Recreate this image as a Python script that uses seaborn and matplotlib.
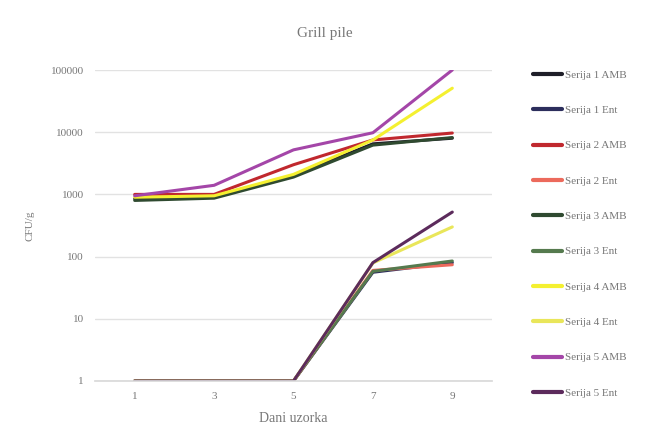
import pandas as pd
import numpy as np
import matplotlib.pyplot as plt
import seaborn as sns

# Chart data (log-scale CFU/g)
days = ["1", "3", "5", "7", "9"]

amb_1 = [850, 900, 2000, 6500, 8000]
amb_2 = [1000, 1000, 3000, 7500, 9700]
amb_3 = [800, 870, 1900, 6200, 8200]
amb_4 = [900, 950, 2100, 7500, 51000]
amb_5 = [950, 1400, 5200, 9800, 100000]

ent_1 = [1, 1, 1, 56, 80]
ent_2 = [1, 1, 1, 60, 74]
ent_3 = [1, 1, 1, 58, 85]
ent_4 = [1, 1, 1, 79, 300]
ent_5 = [1, 1, 1, 80, 520]

series_names = ["Serija 1 AMB", "Serija 1 Ent", "Serija 2 AMB", "Serija 2 Ent",
                "Serija 3 AMB", "Serija 3 Ent", "Serija 4 AMB", "Serija 4 Ent",
                "Serija 5 AMB", "Serija 5 Ent"]
series_values = [amb_1, ent_1, amb_2, ent_2, amb_3, ent_3, amb_4, ent_4, amb_5, ent_5]
series_colors = ["#1e1e28", "#2c2e5c", "#c0282e", "#ec6a5c", "#2f4a30",
                 "#557a4e", "#f4f030", "#e9e65a", "#a446a8", "#5c2b5c"]

sns.set_theme(style="white")
plt.rcParams['font.family'] = ['Liberation Serif', 'DejaVu Serif']

rows = []
for name, vals in zip(series_names, series_values):
    for i, v in enumerate(vals):
        rows.append({"pos": i, "value": v, "series": name})
df = pd.DataFrame(rows)

fig = plt.figure(figsize=(6.65, 4.29), dpi=100)
ax = fig.add_axes([95 / 665, 1 - 381 / 429, (492 - 95) / 665, (381 - 70) / 429])

sns.lineplot(data=df, x="pos", y="value", hue="series", hue_order=series_names,
             palette=dict(zip(series_names, series_colors)), linewidth=2.2,
             ax=ax, legend=True)

ax.set_yscale("log")
ax.set_ylim(1, 100000)
ax.set_xlim(-0.5, len(days) - 0.5)
ax.set_yticks([1, 10, 100, 1000, 10000, 100000])
ax.set_yticklabels(["1", "10", "100", "1000", "10000", "100000"])
ax.minorticks_off()
ax.set_xticks(range(len(days)))
ax.set_xticklabels(days)
ax.yaxis.grid(True, color="#e2e2e2", linewidth=1)
ax.set_axisbelow(True)
for s in ["top", "right", "left"]:
    ax.spines[s].set_visible(False)
ax.spines["bottom"].set_color("#d9d9d9")
ax.tick_params(axis="both", length=0, labelsize=8, colors="#777777", pad=8)

ax.set_xlabel("Dani uzorka", fontsize=10, color="#777777", labelpad=8)
ax.set_ylabel("CFU/g", fontsize=8, color="#777777", labelpad=12)
fig.text(325 / 665, 1 - 33 / 429, "Grill pile", ha="center", va="center",
         fontsize=11, color="#777777")

handles, labels = ax.get_legend_handles_labels()
ax.legend(handles, labels, loc="upper left", bbox_to_anchor=(523 / 665, 1 - 60 / 429),
          bbox_transform=fig.transFigure, frameon=False, fontsize=8,
          labelspacing=2.3, handlelength=2.6, handletextpad=0.3,
          labelcolor="#777777")
for line in ax.get_legend().get_lines():
    line.set_linewidth(3)

plt.savefig("out.png", dpi=100)
plt.close()
